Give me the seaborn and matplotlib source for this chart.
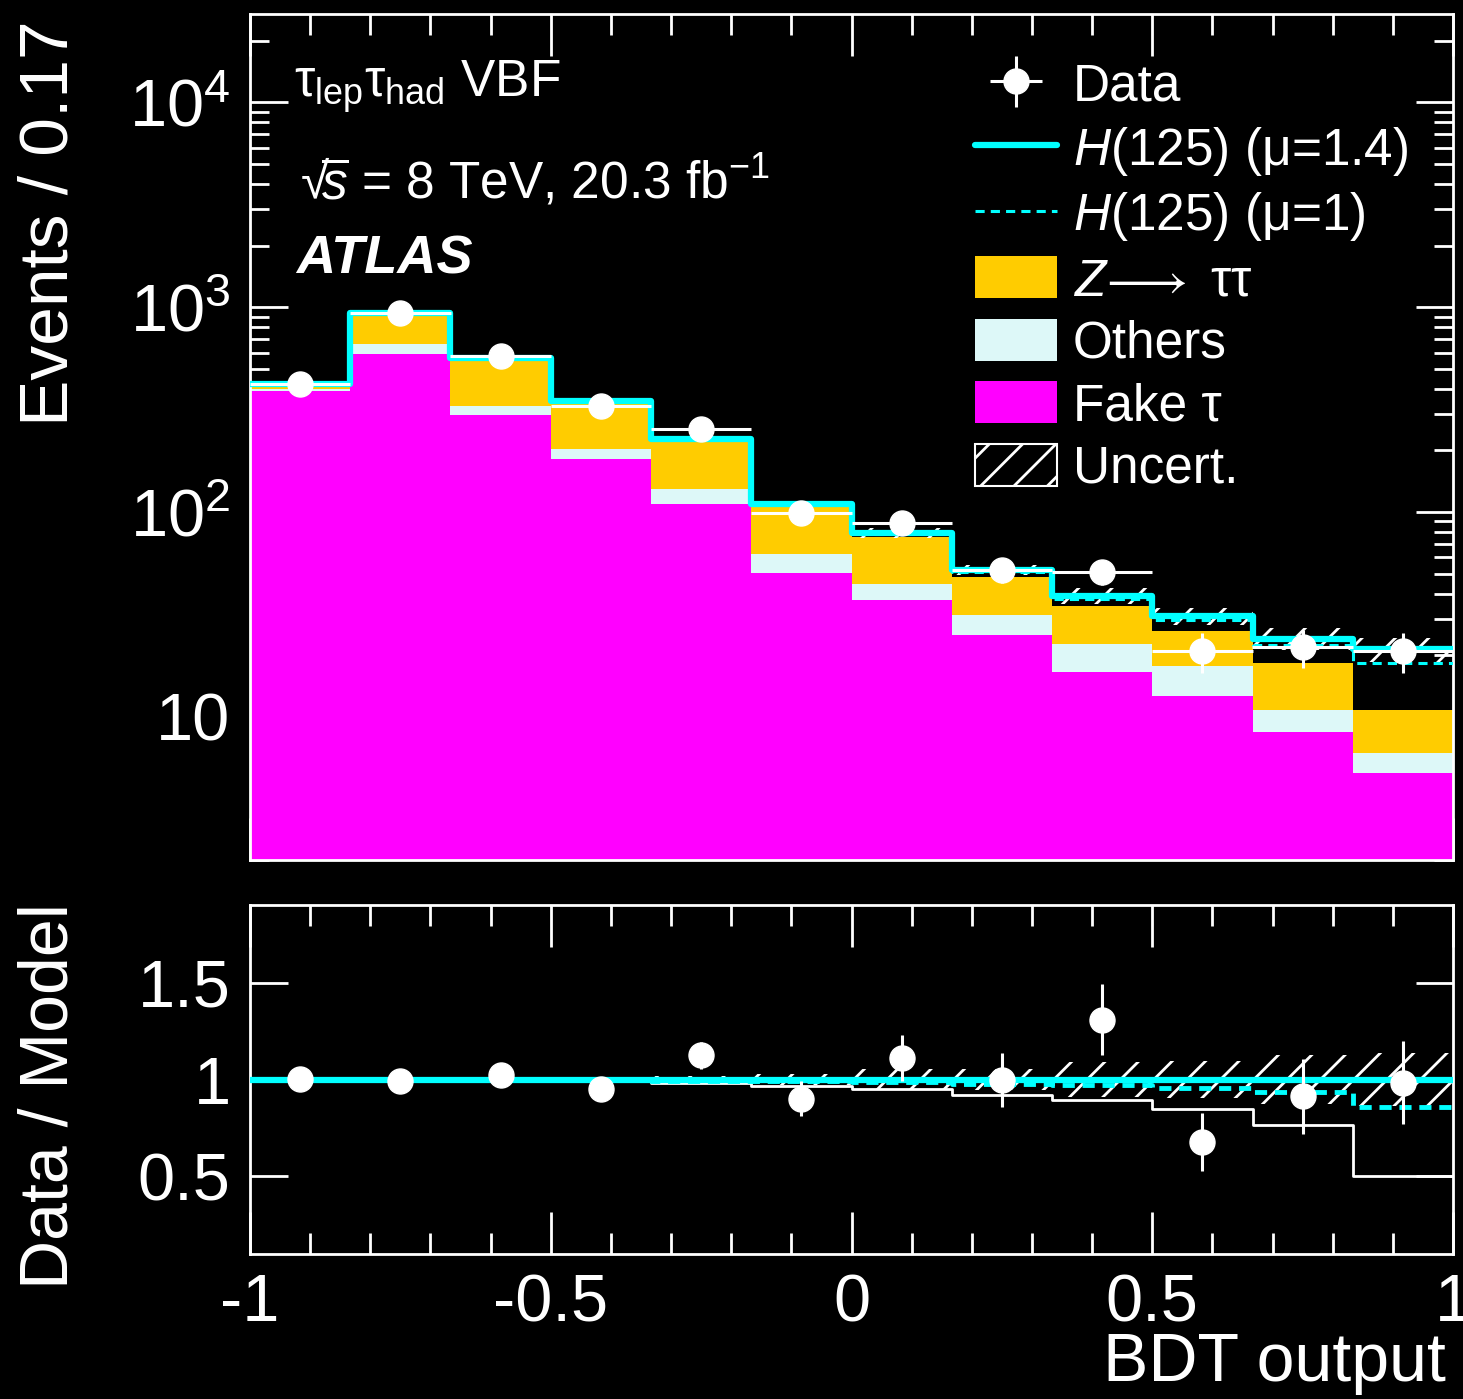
import numpy as np
import pandas as pd
import matplotlib
matplotlib.use("Agg")
import matplotlib.pyplot as plt
import seaborn as sns
from matplotlib.lines import Line2D
from matplotlib.patches import Patch
from matplotlib.ticker import (FixedLocator, MultipleLocator, LogLocator,
                               FuncFormatter, NullFormatter)

# ---- binned inputs: 12 bins of BDT output between -1 and 1 ----
bin_edges = [-1.0, -0.8333, -0.6667, -0.5, -0.3333, -0.1667, 0.0,
             0.1667, 0.3333, 0.5, 0.6667, 0.8333, 1.0]
fake_tau = [389, 590, 299, 181.6, 109.4, 50.4, 37.1, 25.0, 16.5, 12.6, 8.45, 5.33]
others = [9, 71, 31, 22.4, 20.1, 12.3, 7.6, 6.5, 6.3, 5.2, 2.35, 1.34]
ztautau = [20, 274, 232, 139, 92.5, 43.3, 30.6, 16.5, 12.0, 8.5, 7.6, 4.1]
higgs_mu14 = [2.0, 5.0, 4.5, 3.5, 4.6, 3.9, 3.8, 4.1, 4.2, 4.7, 5.7, 10.6]
higgs_mu1 = [1.4, 3.6, 3.2, 2.5, 3.3, 2.8, 2.7, 2.9, 3.0, 3.4, 4.1, 7.6]
data = [421, 935, 580, 330, 255, 99, 88, 52, 51, 21, 22, 21]
rel_uncert = [0.012, 0.012, 0.015, 0.015, 0.02, 0.03, 0.055, 0.055, 0.09, 0.095, 0.125, 0.135]

process_names = ["Z→ττ", "Others", "Fake τ"]
process_colors = {"Z→ττ": "#FFCC00", "Others": "#DDF8F8", "Fake τ": "#FF00FF"}
CYAN = "#00FFFF"

# ---- style ----
sns.set_style("ticks")
plt.rcParams.update({
    "figure.facecolor": "black",
    "axes.facecolor": "black",
    "savefig.facecolor": "black",
    "axes.edgecolor": "white",
    "axes.labelcolor": "white",
    "text.color": "white",
    "xtick.color": "white",
    "ytick.color": "white",
    "axes.linewidth": 2.0,
    "hatch.linewidth": 2.0,
    "hatch.color": "white",
    "axes.unicode_minus": False,
    "mathtext.fontset": "custom",
    "mathtext.rm": "Liberation Sans",
    "mathtext.it": "Liberation Sans:italic",
    "mathtext.bf": "Liberation Sans:bold",
})
plt.rcParams["font.family"] = ["Liberation Sans", "DejaVu Sans"]

edges_a = np.array(bin_edges)
centers = 0.5 * (edges_a[:-1] + edges_a[1:])
half_width = 0.5 * (edges_a[1] - edges_a[0])
fake_a = np.array(fake_tau)
oth_a = np.array(others)
z_a = np.array(ztautau)
h14_a = np.array(higgs_mu14)
h1_a = np.array(higgs_mu1)
data_a = np.array(data, dtype=float)
unc_a = np.array(rel_uncert)

background = fake_a + oth_a + z_a
model = background + h14_a
model_mu1 = background + h1_a


def edge_values(v):
    v = np.asarray(v, dtype=float)
    return np.append(v, v[-1])


def step_hist(axis, values, **kws):
    sns.histplot(x=list(centers), weights=list(values), bins=list(bin_edges),
                 element="step", fill=False, ax=axis, **kws)


fig = plt.figure(figsize=(14.63, 13.99), dpi=100)
W, H = 1463.0, 1399.0
ax = fig.add_axes([250 / W, 1 - 860 / H, 1203 / W, 846 / H])
rax = fig.add_axes([250 / W, 1 - 1254 / H, 1203 / W, 349 / H])

# ---- main panel ----
ax.set_yscale("log")
stack_df = pd.DataFrame({
    "bdt": np.tile(centers, 3),
    "events": np.concatenate([z_a, oth_a, fake_a]),
    "process": np.repeat(process_names, len(centers)),
})
sns.histplot(data=stack_df, x="bdt", weights="events", hue="process",
             hue_order=process_names, palette=process_colors,
             multiple="stack", bins=list(bin_edges), element="step", fill=True,
             alpha=1.0, linewidth=0, legend=False, ax=ax)

ax.fill_between(edges_a, edge_values(model * (1 - unc_a)),
                edge_values(model * (1 + unc_a)), step="post",
                facecolor="none", edgecolor="white", hatch="/",
                linewidth=0, zorder=3)

step_hist(ax, model, color=CYAN, linewidth=4.5, zorder=4)
step_hist(ax, model_mu1, color=CYAN, linewidth=2.2, linestyle=(0, (3, 2)), zorder=4)

data_handle = ax.errorbar(centers, data_a, xerr=half_width, yerr=np.sqrt(data_a),
                          fmt="o", color="white", ms=18, elinewidth=2.2,
                          capsize=0, zorder=6)

ax.set_xlim(-1, 1)
ax.set_ylim(2, 27000)
ax.set_xlabel("")
ax.set_ylabel("")
ax.xaxis.set_major_locator(MultipleLocator(0.5))
ax.xaxis.set_minor_locator(MultipleLocator(0.1))
ax.yaxis.set_major_locator(LogLocator(base=10, numticks=10))
ax.yaxis.set_minor_locator(LogLocator(base=10, subs=np.arange(2, 10), numticks=20))
ax.yaxis.set_minor_formatter(NullFormatter())


def log_label(v, pos):
    e = int(round(np.log10(v)))
    if e == 1:
        return "10"
    return r"$\mathregular{10^{%d}}$" % e


ax.yaxis.set_major_formatter(FuncFormatter(log_label))
ax.tick_params(axis="x", which="both", labelbottom=False)

# ---- ratio panel ----
step_hist(rax, background / model, color="white", linewidth=2.0, zorder=2)
rax.fill_between(edges_a, edge_values(1 - unc_a), edge_values(1 + unc_a),
                 step="post", facecolor="none", edgecolor="white", hatch="/",
                 linewidth=0, zorder=3)
step_hist(rax, np.ones_like(model), color=CYAN, linewidth=4.5, zorder=4)
step_hist(rax, model_mu1 / model, color=CYAN, linewidth=3.5,
          linestyle=(0, (2.5, 1.6)), zorder=4)
rax.errorbar(centers, data_a / model, yerr=np.sqrt(data_a) / model,
             fmt="o", color="white", ms=18, elinewidth=2.2, capsize=0, zorder=6)

rax.set_xlim(-1, 1)
rax.set_ylim(0.1, 1.9)
rax.set_xlabel("")
rax.set_ylabel("")
rax.xaxis.set_major_locator(MultipleLocator(0.5))
rax.xaxis.set_minor_locator(MultipleLocator(0.1))
rax.xaxis.set_major_formatter(FuncFormatter(lambda v, p: "%g" % v))
rax.yaxis.set_major_locator(FixedLocator([0.5, 1.0, 1.5]))
rax.yaxis.set_major_formatter(FuncFormatter(lambda v, p: "%g" % v))

for a in (ax, rax):
    for s in a.spines.values():
        s.set_color("white")
        s.set_linewidth(2.0)
    a.tick_params(which="both", direction="in", top=True, right=True,
                  width=2, colors="white", labelsize=48, pad=14)
    a.tick_params(axis="x", which="major", length=30)
    a.tick_params(axis="x", which="minor", length=15)
    a.tick_params(axis="y", which="major", length=27)
    a.tick_params(axis="y", which="minor", length=14)

# ---- axis titles ----
fig.text(50 / W, 1 - 20 / H, "Events / 0.17", rotation=90, ha="center",
         va="top", fontsize=50)
fig.text(50 / W, 1 - 903 / H, "Data / Model", rotation=90, ha="center",
         va="top", fontsize=49)
fig.text(1446 / W, 1 - 1381 / H, "BDT output", ha="right", va="baseline",
         fontsize=49)

# ---- labels ----
ax.text(294 / W, 1 - 97 / H,
        r"$\mathregular{\tau}_{\mathregular{lep}}\mathregular{\tau}_{\mathregular{had}}$ VBF",
        transform=fig.transFigure, fontsize=37, va="baseline")
ax.text(300 / W, 1 - 199 / H,
        r"$\mathregular{√}\!\overline{s}$ = 8 TeV, 20.3 fb$^{\mathregular{-1}}$",
        transform=fig.transFigure, fontsize=37, va="baseline")
ax.text(296 / W, 1 - 274 / H, "ATLAS", transform=fig.transFigure,
        fontsize=39, fontweight="bold", fontstyle="italic", va="baseline")

# ---- legend ----
handles = [
    data_handle,
    Line2D([], [], color=CYAN, linewidth=4.5),
    Line2D([], [], color=CYAN, linewidth=2.2, linestyle=(0, (3, 2))),
    Patch(facecolor=process_colors["Z→ττ"], edgecolor="none"),
    Patch(facecolor=process_colors["Others"], edgecolor="none"),
    Patch(facecolor=process_colors["Fake τ"], edgecolor="none"),
    Patch(facecolor="black", edgecolor="white", hatch="/", linewidth=1.5),
]
labels = ["Data", r"$H$(125) (μ=1.4)", r"$H$(125) (μ=1)",
          r"$Z\!\longrightarrow$ ττ", "Others", "Fake τ", "Uncert."]
fig.legend(handles, labels, loc="upper left",
           bbox_to_anchor=(975 / W, 1 - 62 / H), frameon=False, fontsize=37,
           borderpad=0, borderaxespad=0, handlelength=1.6, handleheight=0.88,
           handletextpad=0.3, labelspacing=0.25, labelcolor="white")

fig.savefig("out.png", dpi=100, facecolor="black")
